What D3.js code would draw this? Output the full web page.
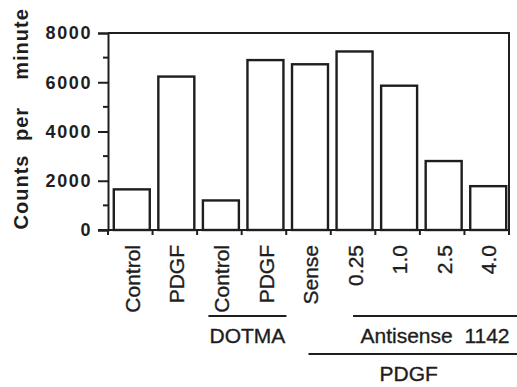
<!DOCTYPE html>
<html>
<head>
<meta charset="utf-8">
<script src="https://cdn.jsdelivr.net/npm/d3@7"></script>
<style>
  body { margin: 0; background: #fff; }
  text { font-family: "Liberation Sans", Arial, sans-serif; fill: #1e1e1e; }
</style>
</head>
<body>
<svg id="chart" width="517" height="387"></svg>
<script>
/* Chart data */
var categories = ["Control", "PDGF", "Control", "PDGF", "Sense", "0.25", "1.0", "2.5", "4.0"];
var counts = [1650, 6230, 1200, 6900, 6730, 7250, 5860, 2800, 1780];
var yTicks = [0, 2000, 4000, 6000, 8000];
var yMinorTicks = [1000, 3000, 5000, 7000];
var axisTitleWords = ["Counts", "per", "minute"];

// groups under the axis: label, first and last category index
var groupLabels = ["DOTMA", "Antisense  1142", "PDGF"];
var groupFirst = [2, 5, 4];
var groupLast = [3, 8, 8];

/* Layout */
var svg = d3.select("#chart");
var plotLeft = 108, plotRight = 509, plotTop = 33, plotBottom = 230;
var ink = "#1e1e1e";

var x = d3.scaleBand()
    .domain(d3.range(categories.length))
    .range([plotLeft, plotRight])
    .paddingInner(0.17)
    .paddingOuter(0.085);
var y = d3.scaleLinear().domain([0, 8000]).range([plotBottom, plotTop]);
var step = x.step();

// bars
svg.selectAll(".bar")
    .data(counts)
    .enter().append("rect")
    .attr("class", "bar")
    .attr("x", function (d, i) { return x(i) + 2; })
    .attr("y", function (d) { return y(d); })
    .attr("width", x.bandwidth() - 1)
    .attr("height", function (d) { return plotBottom - y(d); })
    .attr("fill", "#fff")
    .attr("stroke", ink)
    .attr("stroke-width", 2.4);

// frame (top and right)
svg.append("path")
    .attr("d", "M" + plotLeft + "," + plotTop + "H" + plotRight + "V" + plotBottom)
    .attr("fill", "none")
    .attr("stroke", ink)
    .attr("stroke-width", 2);

// y axis
var yAxis = svg.append("g")
    .attr("transform", "translate(" + plotLeft + ",0)")
    .call(d3.axisLeft(y).tickValues(yTicks).tickSize(10).tickPadding(6).tickFormat(d3.format("d")));
yAxis.select(".domain").attr("stroke", ink).attr("stroke-width", 2);
yAxis.selectAll(".tick line").attr("stroke", ink).attr("stroke-width", 2);
yAxis.selectAll(".tick text")
    .attr("font-size", 18)
    .attr("font-weight", "bold")
    .attr("font-family", "Liberation Sans, Arial, sans-serif")
    .attr("letter-spacing", "1.6px")
    .style("fill", ink);

svg.append("g").selectAll("line")
    .data(yMinorTicks)
    .enter().append("line")
    .attr("x1", plotLeft - 5).attr("x2", plotLeft)
    .attr("y1", function (d) { return y(d); })
    .attr("y2", function (d) { return y(d); })
    .attr("stroke", ink)
    .attr("stroke-width", 2);

// x axis: baseline and ticks between the bars
svg.append("line")
    .attr("x1", plotLeft - 10).attr("x2", plotRight + 1)
    .attr("y1", plotBottom).attr("y2", plotBottom)
    .attr("stroke", ink).attr("stroke-width", 2);

var boundaries = d3.range(categories.length + 1).map(function (i) {
    return i === 0 ? plotLeft : (i === categories.length ? plotRight : x(i) - x.paddingInner() * step / 2);
});
svg.append("g").selectAll("line")
    .data(boundaries)
    .enter().append("line")
    .attr("x1", function (d) { return d; })
    .attr("x2", function (d) { return d; })
    .attr("y1", plotBottom - 1).attr("y2", plotBottom + 5)
    .attr("stroke", ink).attr("stroke-width", 2);

// category labels, rotated
svg.append("g").selectAll("text")
    .data(categories)
    .enter().append("text")
    .attr("transform", function (d, i) {
        return "translate(" + (x(i) + x.bandwidth() / 2 + 2) + "," + (plotBottom + 15) + ") rotate(-90)";
    })
    .attr("text-anchor", "end")
    .attr("dy", "0.36em")
    .attr("font-size", 21)
    .attr("stroke", ink)
    .attr("stroke-width", 0.35)
    .text(function (d) { return d; });

// group lines and labels
var lineRows = [316, 316, 354];
var lineStart = [-11, 0, 0];
groupLabels.forEach(function (label, g) {
    var x1 = x(groupFirst[g]) + x.bandwidth() / 2 + lineStart[g];
    var x2 = groupLast[g] === categories.length - 1 ? 517 : x(groupLast[g]) + x.bandwidth() + 4;
    svg.append("line")
        .attr("x1", x1).attr("x2", x2)
        .attr("y1", lineRows[g]).attr("y2", lineRows[g])
        .attr("stroke", ink).attr("stroke-width", 2.2);
    svg.append("text")
        .attr("x", (x1 + x2) / 2 - (g === 2 ? 4 : 0))
        .attr("y", lineRows[g] + 27)
        .attr("text-anchor", "middle")
        .attr("font-size", 21)
        .attr("stroke", ink)
        .attr("stroke-width", 0.35)
        .style("white-space", "pre")
        .text(label);
});

// y axis title, word by word
var titleCenters = [192, 124, 44];
axisTitleWords.forEach(function (w, i) {
    svg.append("text")
        .attr("transform", "translate(28," + titleCenters[i] + ") rotate(-90)")
        .attr("text-anchor", "middle")
        .attr("font-size", 20)
        .attr("font-weight", "bold")
        .attr("letter-spacing", "1px")
        .text(w);
});
</script>
</body>
</html>
